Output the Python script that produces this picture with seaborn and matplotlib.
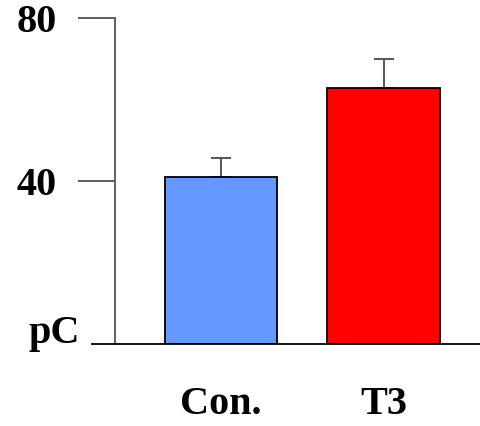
import matplotlib
matplotlib.use("Agg")
from matplotlib import pyplot as plt
import seaborn as sns

grupos = ["Con.", "T3"]
valores = [41.0, 63.0]
erros = [4.6, 7.0]
cores = ["#6699FF", "#FF0000"]
ticks_y = [40, 80]


def main():
    sns.set_theme(style="white")
    plt.rcParams["font.family"] = ["Liberation Serif", "DejaVu Serif"]
    plt.rcParams["text.color"] = "black"
    plt.rcParams["xtick.color"] = "black"
    plt.rcParams["ytick.color"] = "black"

    fig = plt.figure(figsize=(4.81, 4.26), dpi=100)
    ax = fig.add_axes([92 / 481, 82 / 426, 389 / 481, 325.5 / 426])

    sns.barplot(x=grupos, y=valores, hue=grupos, palette=cores, legend=False,
                saturation=1, width=0.69, edgecolor="black", linewidth=1.3,
                ax=ax, zorder=2)
    ax.errorbar(x=range(len(grupos)), y=valores, yerr=[[0] * len(erros), erros],
                fmt="none", ecolor="#555555", elinewidth=1.4, capsize=7.2,
                capthick=1.4, zorder=1)

    # eixo y deslocado (precisa vir antes dos rótulos, pois recria os ticks)
    for s in ["top", "right"]:
        ax.spines[s].set_visible(False)
    ax.spines["left"].set_position(("axes", 23 / 389))
    ax.spines["left"].set_color("#555555")
    ax.spines["left"].set_linewidth(1.3)
    ax.spines["bottom"].set_color("black")
    ax.spines["bottom"].set_linewidth(1.3)

    ax.set_xlim(-0.794, 1.6)
    ax.set_ylim(0, 80)
    ax.set_yticks(ticks_y, labels=[str(t) for t in ticks_y],
                  fontsize=29, fontweight="bold")
    ax.set_xticks(range(len(grupos)), labels=grupos,
                  fontsize=29, fontweight="bold")
    ax.tick_params(axis="x", length=0, pad=30)
    ax.tick_params(axis="y", left=True, length=27, width=1.2, color="#444444",
                   pad=15)
    ax.set_xlabel("")
    ax.set_ylabel("")

    fig.text(80 / 481, (426 - 343) / 426, "pC", ha="right", va="baseline",
             fontsize=29, fontweight="bold")

    fig.savefig("out.png", dpi=100)


if __name__ == "__main__":
    main()
